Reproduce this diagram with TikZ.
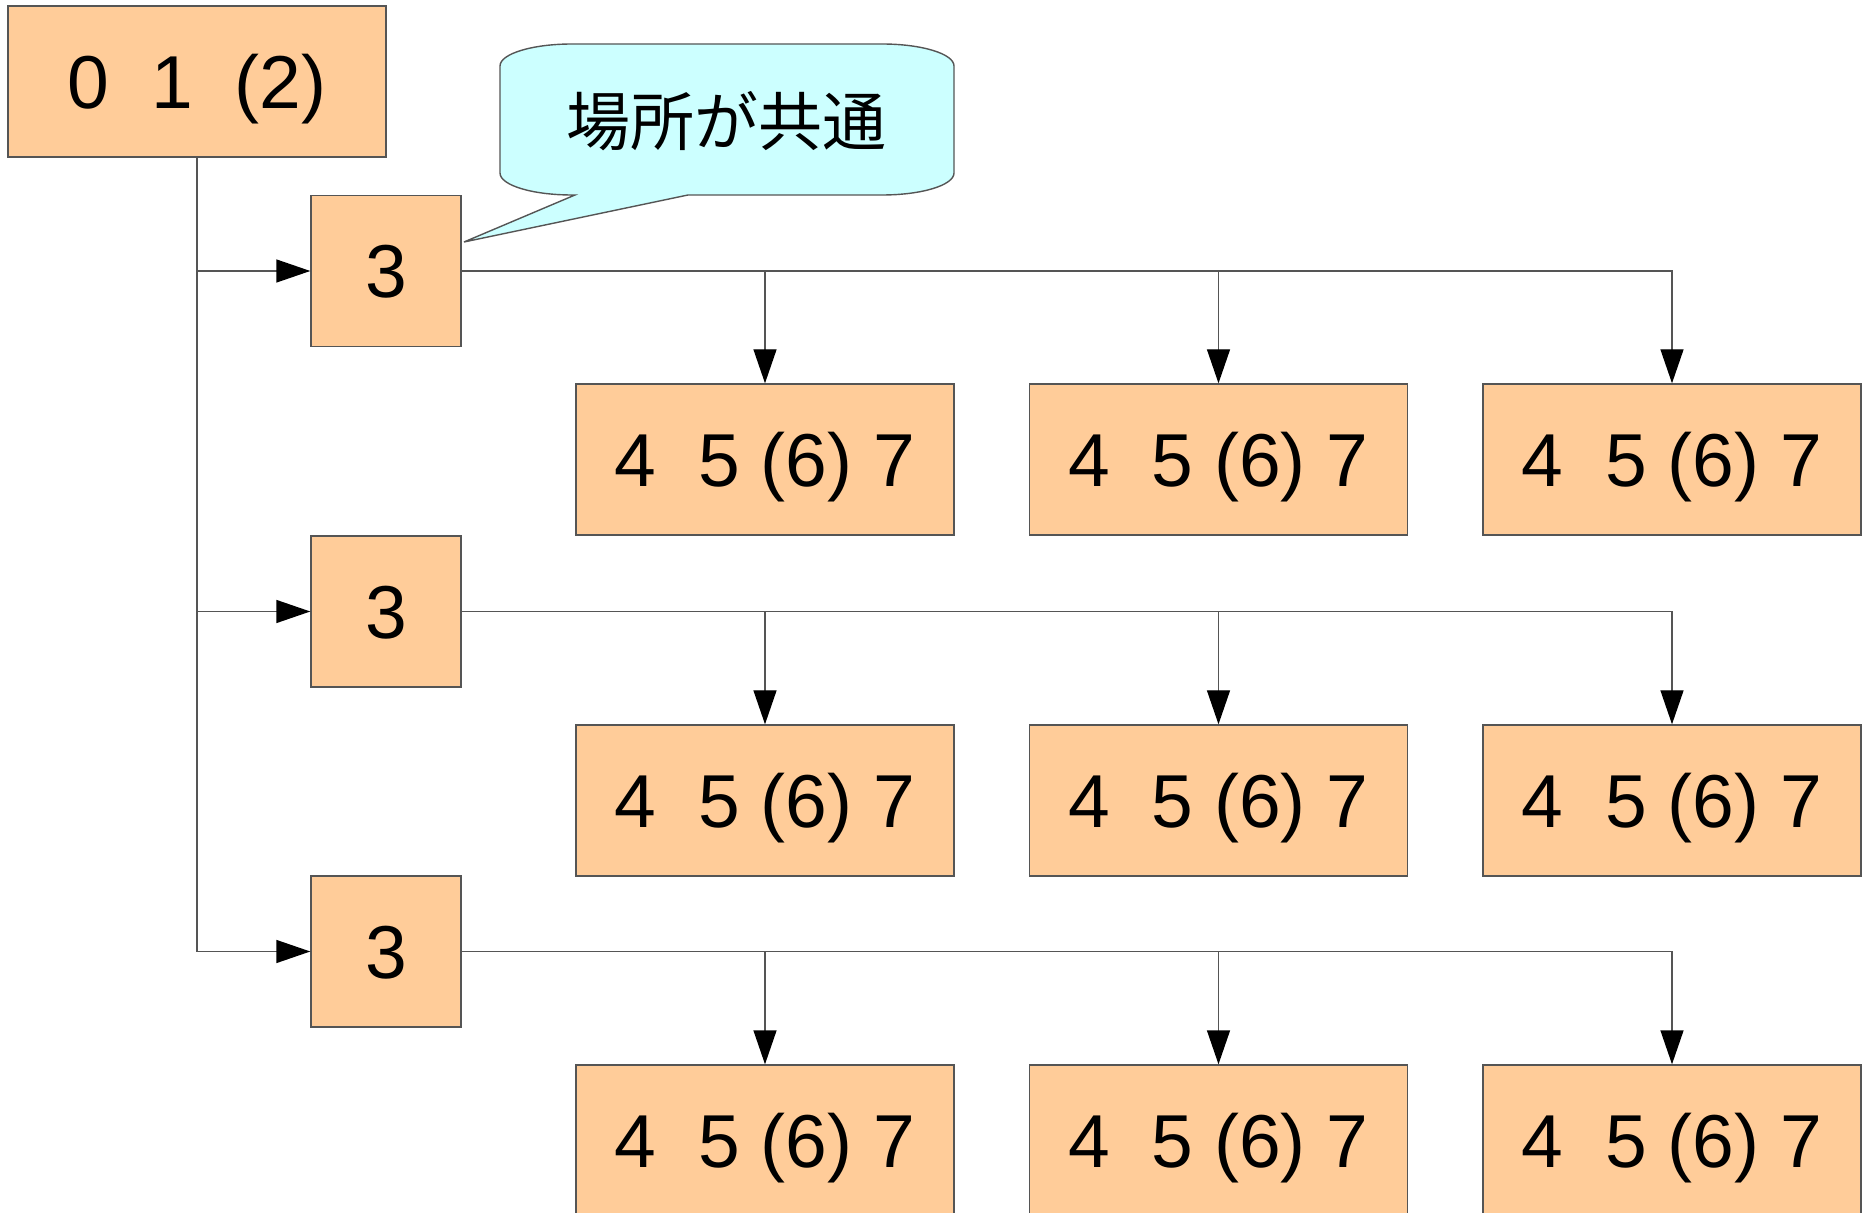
\documentclass[tikz,border=0pt]{standalone}
\usepackage{fontspec}
\setmainfont{Liberation Sans}
\newfontfamily\cjk{Noto Sans CJK JP}
\usetikzlibrary{arrows.meta}
\definecolor{boxfill}{HTML}{FFCC99}
\definecolor{callfill}{HTML}{CCFFFF}
\definecolor{edgegray}{HTML}{555555}
\begin{document}
\begin{tikzpicture}[x=0.5pt,y=-0.5pt,
  box/.style={draw=edgegray,line width=0.7pt,fill=boxfill,rectangle,inner sep=0pt,
    minimum height=75.5pt,text height=27pt,text depth=0pt,
    font=\fontsize{37.5}{45}\selectfont},
  bigbox/.style={box,minimum width=189pt},
  smallbox/.style={box,minimum width=75pt},
  conn/.style={draw=edgegray,line width=0.7pt,
    -{Triangle[length=17pt,width=11.5pt,color=black]}}]
\useasboundingbox (0,0) rectangle (1869,1213);
\clip (0,0) rectangle (1869,1213);
\fill[white] (0,0) rectangle (1869,1213);
% callout
\draw[fill=callfill,draw=edgegray,line width=0.7pt]
  (500,66) .. controls (500,53.8) and (532.2,44) .. (572,44)
  -- (882,44) .. controls (921.8,44) and (954,53.8) .. (954,66)
  -- (954,173) .. controls (954,185.2) and (921.8,195) .. (882,195)
  -- (688,195) -- (464,242) -- (575,195) -- (572,195)
  .. controls (532.2,195) and (500,185.2) .. (500,173) -- cycle;
\node[font=\cjk\fontsize{32}{38}\selectfont] (note) at (726,121) {場所が共通};
% boxes
\node[bigbox] (top) at (197,81.5) {0\ \ 1\ \ (2)};
\foreach \i/\y/\cy in {1/271/459.5, 2/611.5/800.5, 3/951.5/1140.5}{
  \node[smallbox] (b\i) at (386,\y) {3};
  \node[bigbox] (c\i a) at (765,\cy) {4\ \ 5 (6) 7};
  \node[bigbox] (c\i b) at (1218.5,\cy) {4\ \ 5 (6) 7};
  \node[bigbox] (c\i c) at (1672,\cy) {4\ \ 5 (6) 7};
}
\foreach \i in {1,2,3}{
  \draw[conn] (top.south) |- (b\i.west);
  \draw[conn] (b\i.east) -| (c\i a.north);
  \draw[conn] (b\i.east) -| (c\i b.north);
  \draw[conn] (b\i.east) -| (c\i c.north);
}
\end{tikzpicture}
\end{document}
